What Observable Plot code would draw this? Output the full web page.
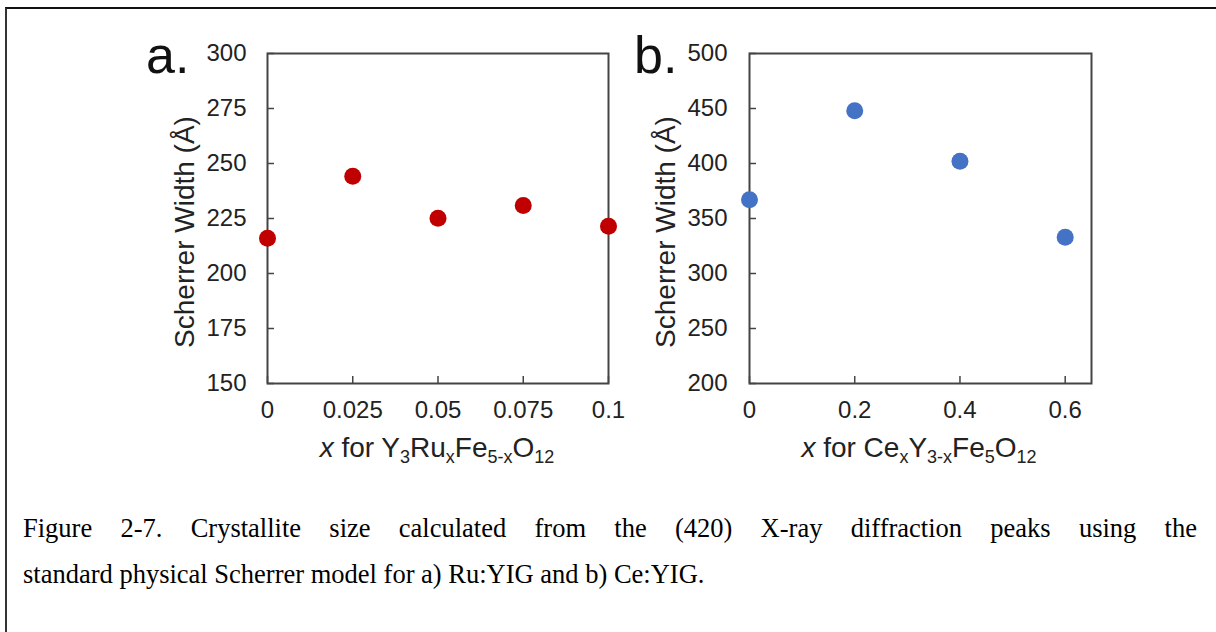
<!DOCTYPE html>
<html><head><meta charset="utf-8">
<script src="https://cdn.jsdelivr.net/npm/d3@7"></script>
<script src="https://cdn.jsdelivr.net/npm/@observablehq/plot@0.6"></script>
<style>
html,body{margin:0;padding:0;background:#fff;}
#root{position:relative;width:1216px;height:632px;overflow:hidden;font-family:"Liberation Sans",Arial,sans-serif;}
#border{position:absolute;left:5px;top:7px;right:-5px;bottom:-5px;border-top:2px solid #111;border-left:2px solid #333;}
.panel{position:absolute;top:20px;}
.plabel{position:absolute;font-size:52px;color:#111;line-height:1;top:29px;}
.xlab{position:absolute;font-size:28px;color:#222;transform:translateX(-50%);white-space:nowrap;line-height:1;top:434px;}
.xlab sub{font-size:18px;vertical-align:-6px;line-height:0;}
.ylab{position:absolute;font-size:28px;color:#222;white-space:nowrap;line-height:1;top:232px;transform:translate(-50%,-50%) rotate(-90deg);}
.cap{position:absolute;left:23px;width:1174px;font-family:"Liberation Serif","Times New Roman",serif;font-size:26.5px;line-height:46px;color:#000;white-space:nowrap;}
#cap1{top:505px;text-align:justify;text-align-last:justify;white-space:normal;}
#cap2{top:551px;}
</style></head><body>
<div id="root">
  <div id="border"></div>
  <div class="panel" id="pa" style="left:130px"></div>
  <div class="panel" id="pb" style="left:630px"></div>
  <div class="plabel" style="left:146px">a.</div>
  <div class="plabel" style="left:634px">b.</div>
  <div class="ylab" id="yla" style="left:185px"></div>
  <div class="ylab" id="ylb" style="left:666px"></div>
  <div class="xlab" style="left:437px"><i>x</i> for Y<sub>3</sub>Ru<sub>x</sub>Fe<sub>5-x</sub>O<sub>12</sub></div>
  <div class="xlab" style="left:919px"><i>x</i> for Ce<sub>x</sub>Y<sub>3-x</sub>Fe<sub>5</sub>O<sub>12</sub></div>
  <div class="cap" id="cap1">Figure 2-7. Crystallite size calculated from the (420) X-ray diffraction peaks using the</div>
  <div class="cap" id="cap2">standard physical Scherrer model for a) Ru:YIG and b) Ce:YIG.</div>
</div>
<script>
// Panel a: Ru-doped YIG
const ruX = [0, 0.025, 0.05, 0.075, 0.1];
const ruWidth = [216, 244.2, 225.1, 230.9, 221.5];
const ruXTicks = [0, 0.025, 0.05, 0.075, 0.1];
const ruXTickLabels = ["0", "0.025", "0.05", "0.075", "0.1"];
const ruYTicks = [150, 175, 200, 225, 250, 275, 300];

// Panel b: Ce-doped YIG
const ceX = [0, 0.2, 0.4, 0.6];
const ceWidth = [367, 448, 402, 333];
const ceXTicks = [0, 0.2, 0.4, 0.6];
const ceXTickLabels = ["0", "0.2", "0.4", "0.6"];
const ceYTicks = [200, 250, 300, 350, 400, 450, 500];

const yLabel = "Scherrer Width (Å)";
document.getElementById("yla").textContent = yLabel;
document.getElementById("ylb").textContent = yLabel;

function panel(o) {
  const data = o.xs.map((x, i) => ({x, y: o.ys[i]}));
  return Plot.plot({
    width: o.width, height: 440,
    marginLeft: o.ml, marginRight: o.mr, marginTop: 33, marginBottom: 77,
    style: {fontFamily: "Liberation Sans, Arial, sans-serif", fontSize: "24px", color: "#222", background: "transparent", overflow: "visible"},
    x: {domain: o.xDomain},
    y: {domain: o.yDomain},
    marks: [
      Plot.axisY(o.yTicks, {anchor: "left", tickSize: -7, tickPadding: o.yPad + 7, stroke: "#444", strokeWidth: 1.5,
        label: null, fontSize: 24}),
      Plot.axisX(o.xTicks, {anchor: "bottom", tickSize: -7, tickPadding: 24, stroke: "#444", strokeWidth: 1.5,
        tickFormat: d => o.xLabels[o.xTicks.indexOf(d)], label: null, fontSize: 24}),
      Plot.frame({stroke: "#444", strokeWidth: 2}),
      Plot.dot(data, {x: "x", y: "y", r: 8.5, fill: o.color, stroke: "none"})
    ]
  });
}

document.getElementById("pa").append(panel({
  xs: ruX, ys: ruWidth, xDomain: [0, 0.1], yDomain: [150, 300],
  xTicks: ruXTicks, xLabels: ruXTickLabels, yTicks: ruYTicks,
  color: "#c00000", width: 500, ml: 137, mr: 22, yPad: 21
}));
document.getElementById("pb").append(panel({
  xs: ceX, ys: ceWidth, xDomain: [0, 0.65], yDomain: [200, 500],
  xTicks: ceXTicks, xLabels: ceXTickLabels, yTicks: ceYTicks,
  color: "#4472c4", width: 480, ml: 119, mr: 19, yPad: 22
}));
</script>
</body></html>
